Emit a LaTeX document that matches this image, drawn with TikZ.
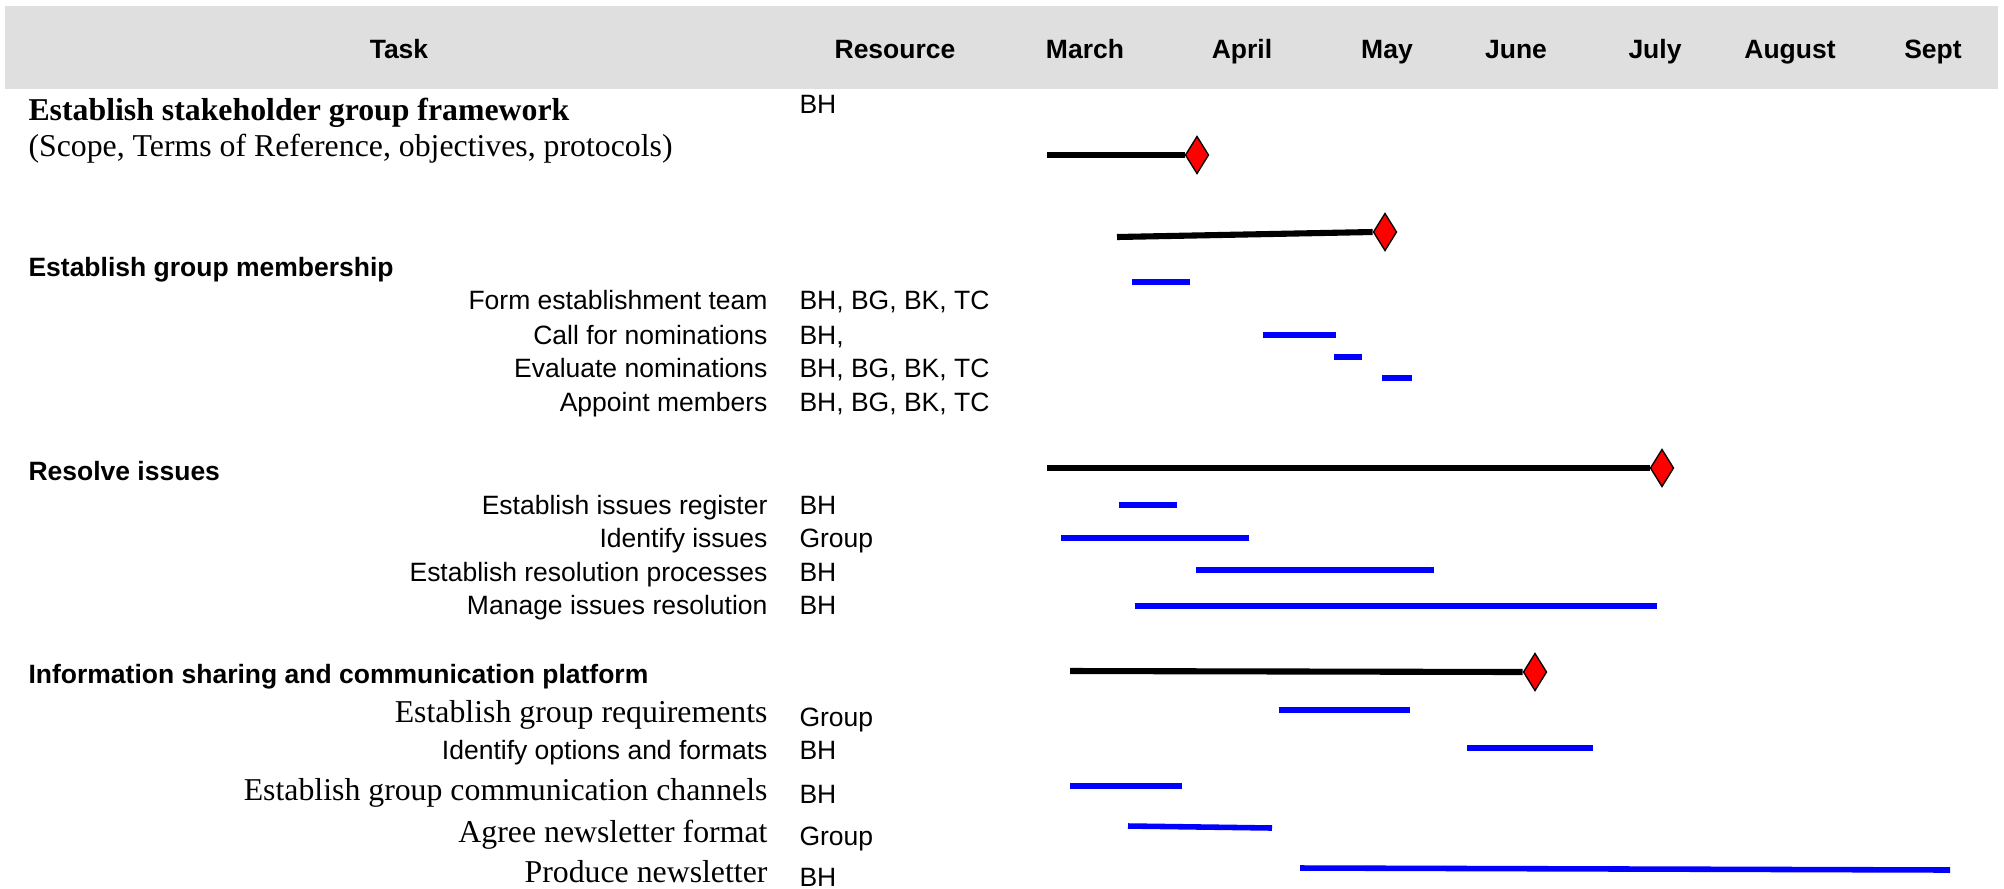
\documentclass[tikz,border=0pt]{standalone}
\usepackage{fontspec}
\setmainfont{Liberation Serif}
\setsansfont{Liberation Sans}
\usetikzlibrary{shapes.geometric}

\definecolor{headergray}{RGB}{223,223,223}

\begin{document}
\begin{tikzpicture}[
    x=0.3774pt, y=-0.3774pt,
    header/.style={font=\sffamily\bfseries\fontsize{10}{12}\selectfont, anchor=base, inner sep=0pt},
    section/.style={font=\sffamily\bfseries\fontsize{10}{12}\selectfont, anchor=base west, inner sep=0pt},
    bigsection/.style={font=\rmfamily\bfseries\fontsize{12}{14}\selectfont, anchor=base west, inner sep=0pt},
    note/.style={font=\rmfamily\fontsize{12}{14}\selectfont, anchor=base west, inner sep=0pt},
    task/.style={font=\sffamily\fontsize{10}{12}\selectfont, anchor=base east, inner sep=0pt},
    serftask/.style={font=\rmfamily\fontsize{12}{14}\selectfont, anchor=base east, inner sep=0pt},
    resource/.style={font=\sffamily\fontsize{10}{12}\selectfont, anchor=base west, inner sep=0pt},
    summary/.style={line width=2.3pt, black},
    activity/.style={line width=2.1pt, blue},
    milestone/.style={diamond, draw=black, fill=red, line width=0.5pt, inner sep=0pt, minimum width=8.9pt, minimum height=14.2pt}
  ]
    \useasboundingbox (0,0) rectangle (2004,888);

    % Header
    \fill[headergray] (5,6) rectangle (1998,89);
    \node[header] (task) at (399,58) {Task};
    \node[header] (resource) at (895,58) {Resource};
    \foreach \month/\xpos in {March/1085, April/1242, May/1387, June/1516, July/1655, August/1790, Sept/1933}
      \node[header] (\month) at (\xpos,58) {\month};

    % Stakeholder group framework
    \node[bigsection] (framework) at (28,120) {Establish stakeholder group framework};
    \node[note] (scope) at (28,156) {(Scope, Terms of Reference, objectives, protocols)};
    \node[resource] (frameworkRes) at (799,113) {BH};
    \node[milestone] (frameworkEnd) at (1197,155) {};
    \coordinate (frameworkStart) at (1047,155);
    \draw[summary] (frameworkStart) -- (frameworkEnd.west);

    % Group membership
    \node[milestone] (membershipEnd) at (1385,232) {};
    \coordinate (membershipStart) at (1117,237);
    \draw[summary] (membershipStart) -- (membershipEnd.west);
    \node[section] (membership) at (28,276) {Establish group membership};
    \node[task] (formTeam) at (768,309) {Form establishment team};
    \node[task] (callNom) at (768,344) {Call for nominations};
    \node[task] (evalNom) at (768,377) {Evaluate nominations};
    \node[task] (appoint) at (768,411) {Appoint members};
    \node[resource] (formTeamRes) at (799,309) {BH, BG, BK, TC};
    \node[resource] (callNomRes) at (799,344) {BH,};
    \node[resource] (evalNomRes) at (799,377) {BH, BG, BK, TC};
    \node[resource] (appointRes) at (799,411) {BH, BG, BK, TC};
    \draw[activity] (1132,282) -- (1190,282);
    \draw[activity] (1263,335) -- (1336,335);
    \draw[activity] (1334,357) -- (1362,357);
    \draw[activity] (1382,378) -- (1412,378);

    % Resolve issues
    \node[section] (resolve) at (28,480) {Resolve issues};
    \node[milestone] (resolveEnd) at (1662,468) {};
    \coordinate (resolveStart) at (1047,468);
    \draw[summary] (resolveStart) -- (resolveEnd.west);
    \node[task] (register) at (768,514) {Establish issues register};
    \node[task] (identify) at (768,547) {Identify issues};
    \node[task] (processes) at (768,581) {Establish resolution processes};
    \node[task] (manage) at (768,614) {Manage issues resolution};
    \node[resource] (registerRes) at (799,514) {BH};
    \node[resource] (identifyRes) at (799,547) {Group};
    \node[resource] (processesRes) at (799,581) {BH};
    \node[resource] (manageRes) at (799,614) {BH};
    \draw[activity] (1119,505) -- (1177,505);
    \draw[activity] (1061,538) -- (1249,538);
    \draw[activity] (1196,570) -- (1434,570);
    \draw[activity] (1135,606) -- (1657,606);

    % Information sharing
    \node[section] (platform) at (28,683) {Information sharing and communication platform};
    \node[milestone] (platformEnd) at (1535,672) {};
    \coordinate (platformStart) at (1070,671);
    \draw[summary] (platformStart) -- (platformEnd.west);
    \node[serftask] (requirements) at (768,722) {Establish group requirements};
    \node[task] (options) at (768,759) {Identify options and formats};
    \node[serftask] (channels) at (768,800) {Establish group communication channels};
    \node[serftask] (format) at (768,842) {Agree newsletter format};
    \node[serftask] (produce) at (768,882) {Produce newsletter};
    \node[resource] (requirementsRes) at (799,726) {Group};
    \node[resource] (optionsRes) at (799,759) {BH};
    \node[resource] (channelsRes) at (799,803) {BH};
    \node[resource] (formatRes) at (799,845) {Group};
    \node[resource] (produceRes) at (799,886) {BH};
    \draw[activity] (1279,710) -- (1410,710);
    \draw[activity] (1467,748) -- (1593,748);
    \draw[activity] (1070,786) -- (1182,786);
    \draw[activity] (1128,826) -- (1272,828);
    \draw[activity] (1300,868) -- (1950,870);
\end{tikzpicture}
\end{document}
